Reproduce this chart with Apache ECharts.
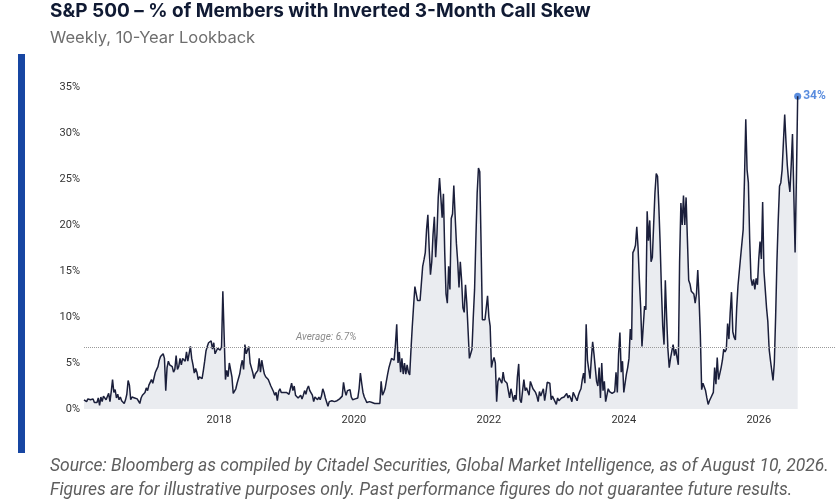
<!DOCTYPE html>
<html lang="en">
  <head>
    <meta charset="UTF-8" />
    <title>S&amp;P 500 inverted call skew</title>
    <style>
      html, body { margin: 0; padding: 0; background: #fff; }
      #main { width: 838px; height: 503px; }
    </style>
  </head>
  <body>
    <div id="main"></div>
    <script src="https://cdn.jsdelivr.net/npm/echarts@6/dist/echarts.min.js"></script>
    <script>
      // weekly values (% of members), one array per calendar year
      const y2016 = [1.0,1.2,0.8,1.1,0.9,1.0,0.8,1.1,0.7,0.9,0.7,1.2,0.4,1.3,0.8,1.4,1.6,1.0,1.1,1.7,0.8,1.9,3.2,1.8,2.1,1.2,1.6,1.0,1.3,0.9,1.1,0.6,1.0,1.6,3.1,2.6,1.0,1.3,1.5,1.2,1.4,1.1,0.9,0.6,1.2,1.5,1.7,1.8,2.3,2.0,2.6,2.8]
      const y2017 = [3.2,2.8,3.4,4.0,4.3,4.6,5.3,5.7,5.9,6.0,5.5,2.0,4.5,5.2,4.8,5.0,4.6,4.0,4.3,5.8,4.3,4.6,5.5,4.8,5.5,5.6,5.2,6.2,5.2,5.0,6.8,5.5,4.8,3.9,4.4,4.0,3.2,3.5,3.6,3.3,4.2,5.2,6.3,6.8,7.2,7.4,7.4,6.5,7.2,6.0,6.3,6.6]
      const y2018 = [6.5,6.4,6.8,12.8,8.0,3.2,4.2,3.5,5.0,4.8,3.5,1.7,1.9,2.2,2.8,3.0,3.8,4.7,5.3,4.3,7.0,6.0,6.2,6.8,5.0,4.5,4.0,3.3,3.8,4.0,4.2,5.5,4.0,5.3,4.5,3.8,3.5,3.6,3.2,3.0,2.5,2.2,1.9,1.5,1.8,0.9,1.9,2.2,1.8,2.0,1.8,1.7]
      const y2019 = [1.8,1.8,1.6,2.2,2.8,2.0,2.5,1.5,1.7,1.2,1.0,1.5,1.1,1.5,2.0,1.6,2.2,2.5,2.0,1.8,1.5,0.8,1.3,1.2,1.0,1.3,1.0,1.4,2.2,1.8,1.2,1.4,0.3,0.8,0.6,0.9,0.7,0.8,0.8,0.9,0.9,1.1,1.0,1.4,2.9,2.0,1.5,2.0,2.2,2.1,1.3,1.0]
      const y2020 = [1.0,1.1,1.0,1.2,2.2,3.9,2.8,1.8,1.3,1.0,0.7,0.5,0.8,0.6,0.7,0.5,0.6,0.5,0.6,0.5,0.6,3.0,1.5,1.8,2.2,3.0,3.8,4.5,5.0,5.5,5.3,5.3,7.0,9.2,5.0,6.2,4.0,5.5,3.8,5.0,3.8,4.8,4.0,3.7,6.5,9.0,11.2,13.3,13.3,11.8,11.8,11.8]
      const y2021 = [11.8,15.5,16.2,17.0,19.5,21.1,17.5,14.6,16.0,19.0,20.9,16.5,19.0,23.0,25.1,23.0,20.8,23.4,17.0,12.5,11.5,15.5,13.0,20.7,21.2,24.3,21.0,18.0,16.0,13.2,16.0,14.0,11.0,10.5,13.5,11.5,8.5,5.5,6.0,6.5,10.0,13.0,18.5,23.5,26.2,25.8,18.0,9.7,9.7,9.7,11.0,12.3]
      const y2022 = [10.0,9.0,4.5,5.2,5.6,5.0,0.8,3.0,3.4,3.2,2.8,4.0,3.1,3.0,2.8,2.0,1.2,2.2,1.6,0.8,1.5,1.0,3.5,4.9,1.0,0.7,2.0,3.2,2.0,2.3,2.4,1.5,3.0,2.8,2.2,2.3,1.8,1.4,0.8,1.9,1.4,1.4,2.2,0.9,1.8,2.9,2.8,2.8,1.0,1.4,1.6,0.8]
      const y2023 = [0.5,1.2,0.9,0.8,1.2,1.3,1.3,1.5,1.7,1.2,1.5,1.2,0.8,1.8,1.7,1.2,0.9,1.5,1.9,2.2,3.2,3.9,2.8,9.2,5.3,5.4,3.3,5.5,7.3,6.0,4.5,3.0,2.5,4.5,1.2,5.0,2.0,3.0,0.8,1.5,2.2,1.9,1.8,1.7,1.5,1.9,4.0,1.8,6.0,8.3,4.0,5.2]
      const y2024 = [1.8,2.8,3.8,4.5,5.5,8.7,7.5,17.0,17.3,17.8,19.8,17.5,14.0,11.0,6.8,9.0,11.2,10.8,21.5,18.3,20.5,16.0,16.5,20.0,23.5,25.6,25.3,22.0,18.0,13.0,9.0,7.0,14.0,10.0,6.5,4.5,5.5,6.3,7.0,5.8,6.5,5.6,4.8,16.0,22.4,20.0,23.2,20.0,23.0,18.5,14.0,13.6]
      const y2025 = [12.8,12.8,12.5,11.5,12.5,15.1,12.0,8.0,2.1,2.8,3.0,2.0,1.2,0.5,0.9,1.2,1.4,1.8,4.5,2.7,5.6,3.2,3.4,4.5,5.3,6.5,6.2,6.5,9.3,7.6,10.5,12.7,8.4,7.8,7.5,11.0,13.4,13.6,16.5,16.5,19.5,25.0,31.5,26.0,24.6,18.5,14.2,13.4,14.1,13.0,14.2,13.5]
      const y2026 = [16.3,18.2,16.3,22.5,15.0,13.0,11.0,9.5,6.5,5.3,5.5,3.1,5.0,10.0,16.0,20.5,24.2,24.6,26.0,29.0,32.0,29.0,26.5,24.8,23.6,26.5,29.9,23.5,17.0,25.0,34.0]

      const yearlyValues = { 2016: y2016, 2017: y2017, 2018: y2018, 2019: y2019, 2020: y2020, 2021: y2021, 2022: y2022, 2023: y2023, 2024: y2024, 2025: y2025, 2026: y2026 }
      const average = 6.7
      const yTicks = { min: 0, max: 35, step: 5 }

      // x as fractional year: week k of a year sits at year + k/52
      let points = []
      Object.keys(yearlyValues).forEach(function (yr) {
        yearlyValues[yr].forEach(function (v, k) {
          points.push([Number(yr) + k / 52, v])
        })
      })
      const last = points[points.length - 1]

      let chart = echarts.init(document.getElementById('main'))
      let option = {
        animation: false,
        textStyle: { fontFamily: 'Roboto, "Noto Sans", sans-serif' },
        grid: { left: 84, right: 3, top: 87, bottom: 94 },
        xAxis: {
          type: 'value',
          min: 2016,
          max: 2027.13,
          interval: 2,
          axisLine: { show: false },
          axisTick: { show: false },
          splitLine: { show: false },
          axisLabel: {
            color: '#333',
            fontSize: 11,
            margin: 6,
            showMaxLabel: false,
            formatter: function (v) {
              return (v > 2016 && v % 2 === 0) ? String(v) : ''
            }
          }
        },
        yAxis: {
          type: 'value',
          min: yTicks.min,
          max: yTicks.max,
          interval: yTicks.step,
          axisLine: { show: false },
          axisTick: { show: false },
          splitLine: { show: false },
          axisLabel: { color: '#333', fontSize: 11, margin: 4, formatter: '{value}%' }
        },
        series: [
          {
            type: 'line',
            data: points,
            showSymbol: false,
            lineStyle: { color: '#1b1f3b', width: 1.5 },
            areaStyle: { color: '#eaecf0', opacity: 1 },
            markLine: {
              silent: true,
              symbol: 'none',
              lineStyle: { color: '#9a9a9a', type: 'dotted', width: 1 },
              label: {
                position: 'insideStartTop',
                distance: [212, 5],
                formatter: 'Average: ' + average + '%',
                fontStyle: 'italic',
                fontSize: 10,
                color: '#8a8a8a'
              },
              data: [{ yAxis: average }]
            }
          },
          {
            type: 'scatter',
            data: [last],
            symbolSize: 7,
            itemStyle: { color: '#2f6fd6' },
            label: {
              show: true,
              position: 'right',
              distance: 2,
              fontWeight: 'bold',
              fontSize: 12,
              color: '#2f6fd6',
              formatter: function (p) { return p.value[1] + '%' }
            }
          }
        ],
        graphic: [
          { type: 'rect', left: 18, top: 54, shape: { width: 7, height: 399 }, style: { fill: '#1746a2' } },
          {
            type: 'text', left: 50, top: 2,
            style: { text: 'S&P 500 – % of Members with Inverted 3-Month Call Skew', font: 'bold 19px Inter, Roboto, sans-serif', fill: '#101a33' }
          },
          {
            type: 'text', left: 50, top: 30,
            style: { text: 'Weekly, 10-Year Lookback', font: '16.5px Inter, Roboto, sans-serif', fill: '#6e6e6e' }
          },
          {
            type: 'text', left: 50, top: 458,
            style: { text: 'Source: Bloomberg as compiled by Citadel Securities, Global Market Intelligence, as of August 10, 2026.', font: 'italic 17.5px Roboto, sans-serif', fill: '#5e5e5e' }
          },
          {
            type: 'text', left: 50, top: 482,
            style: { text: 'Figures are for illustrative purposes only. Past performance figures do not guarantee future results.', font: 'italic 17.5px Roboto, sans-serif', fill: '#5e5e5e' }
          }
        ]
      }
      chart.setOption(option)
    </script>
  </body>
</html>
